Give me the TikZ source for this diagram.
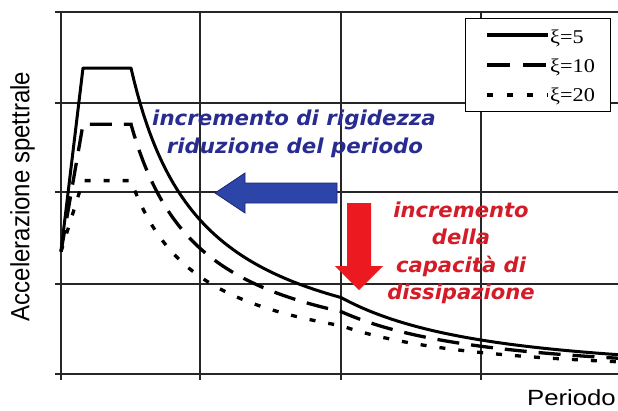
\documentclass[tikz,border=0pt]{standalone}
\usepackage{fontspec}
\setmainfont{Liberation Sans}
\newfontfamily\annotfont{DejaVu Sans}
\newfontfamily\legfont{Liberation Serif}
\definecolor{txtblue}{RGB}{40,44,145}
\definecolor{arrblue}{RGB}{45,68,168}
\definecolor{arrblueedge}{RGB}{28,38,112}
\definecolor{txtred}{RGB}{212,28,40}
\definecolor{arrred}{RGB}{236,26,32}
\tikzset{
  gridline/.style={line width=1.2pt, black!85},
  curve/.style={line width=3pt, line join=round},
  dashcurve/.style={line width=3.3pt, dash pattern=on 22pt off 12pt},
  dotcurve/.style={line width=3.3pt, dash pattern=on 6pt off 13pt},
  bluetext/.style={text=txtblue, font=\annotfont\bfseries\itshape\fontsize{20.5}{24}\selectfont, inner sep=0pt, anchor=base},
  redtext/.style={text=txtred, font=\annotfont\bfseries\itshape\fontsize{20.5}{24}\selectfont, inner sep=0pt, anchor=base},
  legtext/.style={font=\legfont\fontsize{19.5}{22}\selectfont, inner sep=0pt, anchor=base west},
}
\begin{document}
\begin{tikzpicture}[x=1pt,y=-1pt]
\fill[white] (0,0) rectangle (618,410);
\useasboundingbox (0,0) rectangle (618,410);

% grid
\draw[gridline, line width=1.8pt] (55,12) -- (618,12);
\foreach \yy in {103,192,284,374} \draw[gridline] (55,\yy) -- (618,\yy);
\foreach \xx in {61,200,341,481} \draw[gridline] (\xx,12) -- (\xx,380);

% curves
\draw[curve] (61,251.6) -- (83,68) -- (131,68)
  -- plot[domain=131:341, samples=70] (\x,{374-306*(70/(\x-61))})
  -- plot[domain=341:618, samples=60] (\x,{374-76.5*(280/(\x-61))^2});
\draw[dashcurve] (61,251.6) -- (83,124.3) -- (131,124.3)
  -- plot[domain=131:341, samples=70] (\x,{374-0.816*306*(70/(\x-61))})
  -- plot[domain=341:618, samples=60] (\x,{374-0.816*76.5*(280/(\x-61))^2});
\draw[dotcurve] (61,251.6) -- (83,180.6) -- (131,180.6)
  -- plot[domain=131:341, samples=70] (\x,{374-0.632*306*(70/(\x-61))})
  -- plot[domain=341:618, samples=60] (\x,{374-0.632*76.5*(280/(\x-61))^2});

% legend
\node[draw, line width=1.3pt, fill=white, minimum width=145pt, minimum height=93pt, anchor=north west, inner sep=0pt] (legend) at (465,18) {};
\coordinate (l1a) at (487,35); \coordinate (l1b) at (548,35);
\coordinate (l2a) at (487,65); \coordinate (l2b) at (548,65);
\coordinate (l3a) at (487,95); \coordinate (l3b) at (548,95);
\draw[line width=3.5pt] (l1a) -- (l1b);
\draw[line width=3.5pt, dash pattern=on 23pt off 13pt] (l2a) -- (l2b);
\draw[line width=3.5pt, dash pattern=on 6pt off 14pt] (l3a) -- (l3b);
\node[legtext] (k1) at (550,43) {\scalebox{1.14}[1]{ξ=5}};
\node[legtext] (k2) at (550,72) {\scalebox{1.14}[1]{ξ=10}};
\node[legtext] (k3) at (550,101) {\scalebox{1.14}[1]{ξ=20}};

% arrows
\draw[fill=arrblue, draw=arrblueedge, line width=0.8pt, line join=miter]
  (337,183) -- (245,183) -- (245,173) -- (215,193) -- (245,213) -- (245,203) -- (337,203) -- cycle;
\fill[arrred]
  (347,203) -- (371,203) -- (371,266) -- (383,266) -- (359,290) -- (335,266) -- (347,266) -- cycle;

% texts
\node[bluetext] (b1) at (294,125) {\scalebox{1.04}[1]{incremento di rigidezza}};
\node[bluetext] (b2) at (295,153) {\scalebox{1.04}[1]{riduzione del periodo}};
\node[redtext] (r1) at (461,217) {\scalebox{1.03}[1]{incremento}};
\node[redtext] (r2) at (461,244) {\scalebox{1.03}[1]{della}};
\node[redtext] (r3) at (461,272) {\scalebox{1.03}[1]{capacità di}};
\node[redtext] (r4) at (461,299) {\scalebox{1.03}[1]{dissipazione}};

% axis labels
\node[rotate=90, inner sep=0pt, font=\fontsize{24}{28}\selectfont] (ylab) at (22.5,196.5) {\scalebox{1}[1.1]{Accelerazione spettrale}};
\node[inner sep=0pt, anchor=base east, font=\fontsize{22}{26}\selectfont] (xlab) at (616,405) {\scalebox{1.17}[1]{Periodo}};
\end{tikzpicture}
\end{document}
